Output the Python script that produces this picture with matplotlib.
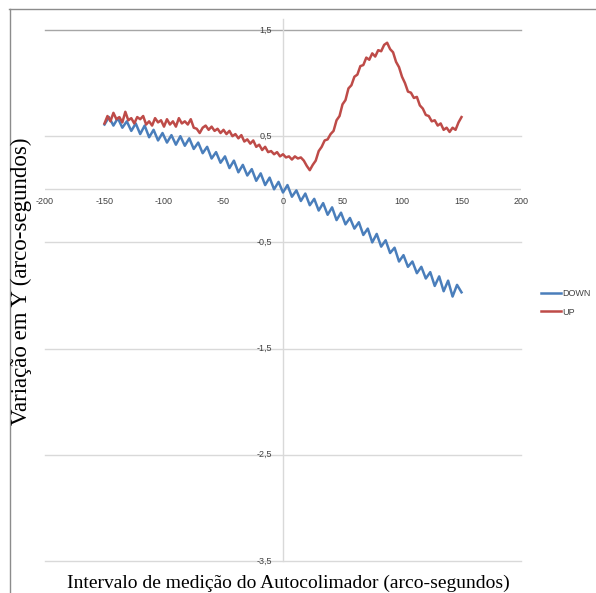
import numpy as np
import matplotlib
matplotlib.use("Agg")
import matplotlib.pyplot as plt
from matplotlib.lines import Line2D

# ---------------- data ----------------
down_x = np.linspace(-150, 150, 81)
down_y = [0.61, 0.68, 0.60, 0.67, 0.58, 0.64, 0.55, 0.62, 0.52, 0.60,
          0.49, 0.56, 0.46, 0.53, 0.44, 0.51, 0.42, 0.50, 0.41, 0.48,
          0.38, 0.44, 0.34, 0.40, 0.29, 0.35, 0.25, 0.31, 0.20, 0.27,
          0.16, 0.23, 0.13, 0.19, 0.08, 0.15, 0.04, 0.11, 0.00, 0.07,
          -0.03, 0.04, -0.07, -0.01, -0.11, -0.04, -0.15, -0.09, -0.20, -0.13,
          -0.24, -0.17, -0.29, -0.22, -0.33, -0.27, -0.37, -0.31, -0.43, -0.37,
          -0.50, -0.42, -0.54, -0.48, -0.60, -0.55, -0.68, -0.62, -0.73, -0.68,
          -0.79, -0.73, -0.84, -0.78, -0.91, -0.82, -0.96, -0.86, -1.01, -0.90,
          -0.97]

up_x = np.linspace(-150, 150, 121)
up_y = [0.62, 0.69, 0.64, 0.72, 0.66, 0.68, 0.63, 0.73, 0.65, 0.67,
        0.62, 0.68, 0.66, 0.69, 0.61, 0.64, 0.60, 0.67, 0.63, 0.65,
        0.59, 0.66, 0.61, 0.64, 0.59, 0.67, 0.62, 0.64, 0.61, 0.66,
        0.58, 0.57, 0.53, 0.58, 0.60, 0.56, 0.59, 0.55, 0.57, 0.53,
        0.56, 0.52, 0.55, 0.50, 0.52, 0.48, 0.51, 0.45, 0.47, 0.43,
        0.46, 0.40, 0.42, 0.37, 0.40, 0.35, 0.36, 0.33, 0.35, 0.31,
        0.33, 0.30, 0.31, 0.28, 0.31, 0.29, 0.30, 0.27, 0.22, 0.18,
        0.23, 0.27, 0.36, 0.40, 0.46, 0.47, 0.52, 0.55, 0.65, 0.69,
        0.80, 0.84, 0.95, 0.98, 1.06, 1.08, 1.16, 1.17, 1.24, 1.22,
        1.28, 1.25, 1.31, 1.30, 1.36, 1.38, 1.32, 1.29, 1.20, 1.15,
        1.06, 1.00, 0.92, 0.91, 0.86, 0.87, 0.79, 0.76, 0.70, 0.69,
        0.64, 0.65, 0.60, 0.62, 0.56, 0.58, 0.54, 0.58, 0.56, 0.63,
        0.68]

series_names = ["DOWN", "UP"]
series_colors = ["#4A7EBB", "#BE4B48"]

x_ticks = [-200, -150, -100, -50, 0, 50, 100, 150, 200]
y_ticks = [1.5, 0.5, -0.5, -1.5, -2.5, -3.5]
y_tick_labels = ["1,5", "0,5", "-0,5", "-1,5", "-2,5", "-3,5"]

x_title = "Intervalo de medição do Autocolimador (arco-segundos)"
y_title = "Variação em Y (arco-segundos)"

# ---------------- figure ----------------
W, H = 596, 593
fig = plt.figure(figsize=(W / 100, H / 100), dpi=100)
fig.patch.set_facecolor("white")

# outer frame (top and left)
fig.add_artist(Line2D([9 / W, 1.0], [1 - 8.5 / H, 1 - 8.5 / H], color="#8C8C8C", lw=1.0))
fig.add_artist(Line2D([9.5 / W, 9.5 / W], [0, 1 - 8.5 / H], color="#8C8C8C", lw=1.0))

left, right = 45 / W, 521 / W
top, bottom = 1 - 30 / H, 1 - 561 / H
ax = fig.add_axes([left, bottom, right - left, top - bottom])
ax.set_xlim(-200, 200)
ax.set_ylim(-3.5, 1.5)
for s in ax.spines.values():
    s.set_visible(False)
ax.set_xticks([])
ax.set_yticks([])
ax.patch.set_alpha(0)

# gridlines
for yv in y_ticks:
    col = "#A6A6A6" if yv == max(y_ticks) else "#D9D9D9"
    ax.axhline(yv, color=col, lw=1.0, zorder=1, clip_on=False)
# x axis at y=0
ax.axhline(0, color="#D9D9D9", lw=1.0, zorder=1)
# y axis at x=0 (extends a little above the plot)
ax.plot([0, 0], [-3.5, 1.6], color="#D9D9D9", lw=1.0, zorder=1, clip_on=False)

tick_font = dict(family="Liberation Sans", size=6.5, color="#404040")
for yv, lab in zip(y_ticks, y_tick_labels):
    ax.annotate(lab, xy=(0, yv), xytext=(-8, 0), textcoords="offset points",
                ha="right", va="center", **tick_font)
for xv in x_ticks:
    ax.annotate(str(xv), xy=(xv, 0), xytext=(0, -9), textcoords="offset points",
                ha="center", va="center", **tick_font)

# series
ax.plot(down_x, down_y, color=series_colors[0], lw=1.8, label=series_names[0], zorder=3)
ax.plot(up_x, up_y, color=series_colors[1], lw=1.8, label=series_names[1], zorder=3)

leg = ax.legend(loc="center left", bbox_to_anchor=(541 / W, 1 - 303 / H),
                bbox_transform=fig.transFigure, frameon=False,
                prop=dict(family="Liberation Sans", size=6.5),
                handlelength=2.2, handletextpad=0.2, labelspacing=1.0,
                borderpad=0, borderaxespad=0)
for t in leg.get_texts():
    t.set_color("#404040")

fig.text(288 / W, 1 - 583 / H, x_title, ha="center", va="center",
         family="Liberation Serif", size=14, color="black")
fig.text(21 / W, 1 - 281 / H, y_title, ha="center", va="center", rotation=90,
         family="Liberation Serif", size=16.5, color="black")

fig.savefig("out.png", dpi=100)
